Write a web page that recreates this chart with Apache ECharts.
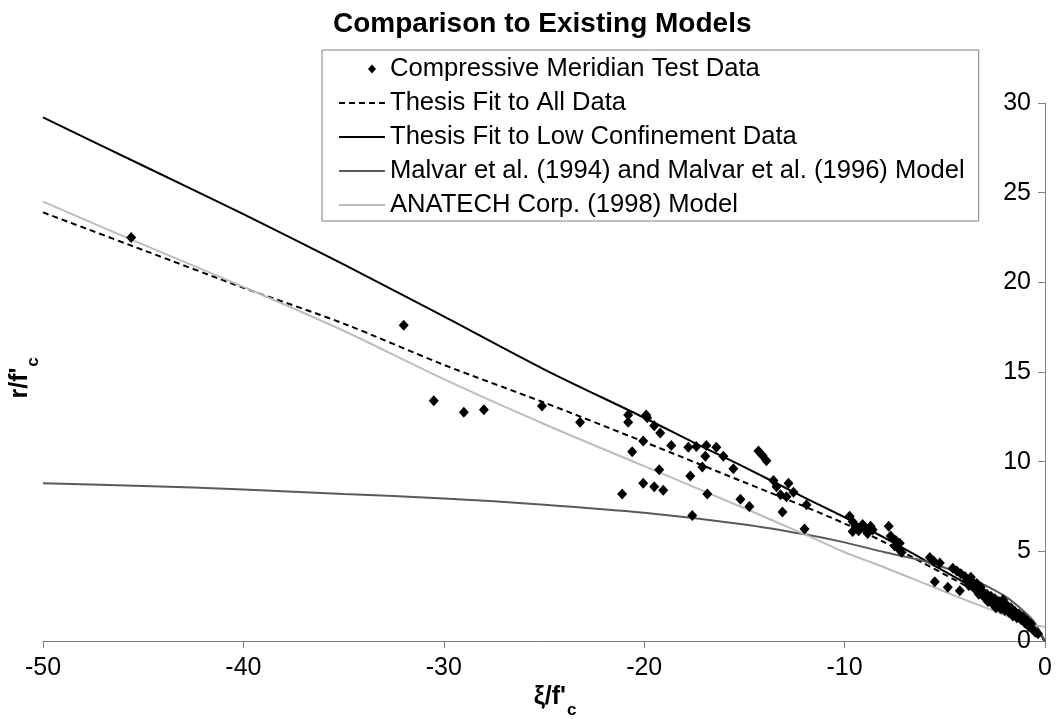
<!DOCTYPE html>
<html>
<head>
<meta charset="utf-8">
<script src="https://cdn.jsdelivr.net/npm/echarts@6/dist/echarts.min.js"></script>
<style>
html,body{margin:0;padding:0;background:#fff;}
#chart{width:1058px;height:719px;}
</style>
</head>
<body>
<div id="chart"></div>
<script>
// ---- data ----
const testData = [
  [-45.6,22.5],[-32.0,17.6],[-30.5,13.4],[-29.0,12.75],[-28.0,12.9],[-25.1,13.1],
  [-23.2,12.2],[-20.8,12.6],[-20.8,12.2],[-20.6,10.55],[-21.1,8.2],[-19.9,12.6],
  [-19.85,12.45],[-19.5,12.0],[-19.2,11.6],[-20.05,11.15],[-18.65,10.9],[-19.25,9.55],
  [-17.8,10.8],[-17.4,10.85],[-16.9,10.9],[-16.4,10.8],[-16.95,10.3],[-17.1,9.7],
  [-16.05,10.3],[-15.55,9.6],[-17.7,9.2],[-20.05,8.8],[-19.5,8.6],[-19.05,8.4],
  [-16.85,8.2],[-17.6,7.0],[-15.2,7.9],[-14.75,7.5],[-14.3,10.6],[-14.1,10.35],
  [-13.9,10.05],[-13.55,8.95],[-13.4,8.6],[-13.2,8.15],[-12.8,8.8],[-12.55,8.3],
  [-12.9,8.05],[-11.9,7.6],[-13.1,7.2],[-12.0,6.25],
  [-9.75,6.95],[-9.6,6.65],[-9.45,6.4],[-9.3,6.15],[-9.6,6.1],[-9.1,6.5],[-8.95,6.3],
  [-8.85,6.0],[-8.7,6.4],[-8.6,6.2],[-7.8,6.4],[-7.7,5.85],[-7.45,5.6],[-7.25,5.45],
  [-7.3,5.15],[-7.15,4.95],[-7.5,5.3],
  [-5.75,4.65],[-5.55,4.45],[-5.25,4.35],[-5.5,3.3],[-4.85,3.0],[-4.6,4.05],[-4.4,3.9],
  [-4.25,2.8],[-4.2,3.75],[-4.0,3.6],[-3.9,3.35],[-3.8,3.1],[-3.7,3.55],[-3.6,3.25],
  [-3.5,2.9],[-3.4,3.2],[-3.3,2.6],[-3.2,3.0],[-3.1,2.75],[-3.0,2.4],[-2.9,2.6],
  [-2.85,2.2],[-2.7,2.5],[-2.6,2.05],[-2.5,2.35],[-2.45,1.85],[-2.3,2.2],[-2.2,1.8],
  [-2.1,2.3],[-2.0,1.7],[-1.9,2.0],[-1.8,1.6],[-1.7,1.85],[-1.6,1.4],[-1.5,1.65],
  [-1.4,1.3],[-1.3,1.5],[-1.2,1.2],[-1.1,1.35],[-1.0,1.0],[-0.9,1.15],[-0.8,0.8],
  [-0.7,0.95],[-0.6,0.65],[-0.5,0.5],[-0.35,0.4]
];
const fitAll = [
  [-50,23.9],[-45,21.8],[-40,19.7],[-35,17.7],[-30,15.4],[-25,13.3],[-20,11.1],
  [-15,8.85],[-12,7.5],[-10,6.55],[-8,5.5],[-6,4.3],[-4,3.1],[-2,1.75],[-1,1.0],[0,0]
];
const fitLow = [
  [-50,29.2],[-45,26.5],[-40,23.8],[-35,21.0],[-30,18.1],[-25,15.15],[-20,12.45],
  [-17.5,11.05],[-15,9.7],[-12,8.0],[-10,6.9],[-8,5.75],[-6,4.5],[-4,3.25],[-2,1.9],
  [-1,1.1],[-0.3,0.45],[0,0]
];
const malvar = [
  [-50,8.8],[-45,8.65],[-40,8.45],[-35,8.2],[-30,7.95],[-25,7.6],[-20,7.15],[-15,6.5],
  [-12,5.95],[-10,5.5],[-8,4.95],[-6,4.45],[-4,3.65],[-2,2.5],[-1,1.6],[-0.5,1.0],[0,0]
];
const anatech = [
  [-50,24.5],[-45,22.1],[-40,19.75],[-35,17.3],[-30,14.6],[-25,12.1],[-20,9.75],
  [-15,7.4],[-12,5.95],[-10,4.95],[-8,4.1],[-6,3.2],[-4,2.3],[-2,1.45],[-1,1.0],[0,0.8]
];
const seriesNames = [
  'Compressive Meridian Test Data',
  'Thesis Fit to All Data',
  'Thesis Fit to Low Confinement Data',
  'Malvar et al. (1994) and Malvar et al. (1996) Model',
  'ANATECH Corp. (1998) Model'
];
const xTicks = {min:-50, max:0, interval:10};
const yTicks = {min:0, max:30, interval:5};

const FONT = '"Liberation Sans", Arial, sans-serif';
const chart = echarts.init(document.getElementById('chart'));
const lineBase = {type:'line', showSymbol:false, symbol:'none', smooth:0.3, z:2};
const hideSym = {opacity:0, borderWidth:0};

chart.setOption({
  backgroundColor:'#fff',
  animation:false,
  textStyle:{fontFamily:FONT, color:'#000'},
  title:{
    text:'Comparison to Existing Models',
    left:328, top:5,
    textStyle:{fontFamily:FONT, fontSize:28, fontWeight:'bold', color:'#000'}
  },
  legend:{
    orient:'vertical',
    left:322, top:50,
    padding:[6,14,3,16],
    itemWidth:46, itemHeight:14, itemGap:8,
    borderColor:'#808080', borderWidth:1,
    textStyle:{fontFamily:FONT, fontSize:25.6, color:'#000'},
    data:[
      {name:seriesNames[0], icon:'path://M0,0M46,14M33,2.5L37,7L33,11.5L29,7Z'},
      {name:seriesNames[1], itemStyle:hideSym},
      {name:seriesNames[2], itemStyle:hideSym},
      {name:seriesNames[3], itemStyle:hideSym},
      {name:seriesNames[4], itemStyle:hideSym}
    ]
  },
  grid:{left:43, right:13, top:103, bottom:78, containLabel:false},
  xAxis:{
    type:'value', min:xTicks.min, max:xTicks.max, interval:xTicks.interval,
    axisLine:{onZero:false, lineStyle:{color:'#808080', width:1}},
    axisTick:{show:true, length:7, lineStyle:{color:'#808080'}},
    axisLabel:{fontFamily:FONT, fontSize:25, color:'#000', margin:15},
    splitLine:{show:false}
  },
  yAxis:{
    type:'value', position:'right', min:yTicks.min, max:yTicks.max, interval:yTicks.interval,
    axisLine:{show:true, onZero:false, lineStyle:{color:'#808080', width:1}},
    axisTick:{show:true, inside:true, length:7, lineStyle:{color:'#808080'}},
    axisLabel:{inside:true, fontFamily:FONT, fontSize:25, color:'#000', margin:14},
    splitLine:{show:false}
  },
  graphic:[
    {type:'text', x:566, y:697, style:{text:"ξ/f'", font:'bold 25px '+FONT, fill:'#000', textAlign:'right', textVerticalAlign:'middle'}},
    {type:'text', x:567, y:710, style:{text:'c', font:'bold 17px '+FONT, fill:'#000', textAlign:'left', textVerticalAlign:'middle'}},
    {type:'text', x:20, y:383, rotation:Math.PI/2, style:{text:"r/f'", font:'bold 25px '+FONT, fill:'#000', textAlign:'center', textVerticalAlign:'middle'}},
    {type:'text', x:33, y:362, rotation:Math.PI/2, style:{text:'c', font:'bold 17px '+FONT, fill:'#000', textAlign:'center', textVerticalAlign:'middle'}}
  ],
  series:[
    {name:seriesNames[0], type:'scatter', data:testData, symbol:'diamond', symbolSize:[10,11],
     itemStyle:{color:'#000', opacity:1}, z:5},
    Object.assign({}, lineBase, {name:seriesNames[1], data:fitAll,
      lineStyle:{color:'#000', width:2, type:[6,4]}, itemStyle:{color:'#000'}}),
    Object.assign({}, lineBase, {name:seriesNames[2], data:fitLow,
      lineStyle:{color:'#000', width:2}, itemStyle:{color:'#000'}}),
    Object.assign({}, lineBase, {name:seriesNames[3], data:malvar,
      lineStyle:{color:'#5a5a5a', width:2}, itemStyle:{color:'#5a5a5a'}}),
    Object.assign({}, lineBase, {name:seriesNames[4], data:anatech,
      lineStyle:{color:'#bdbdbd', width:2}, itemStyle:{color:'#bdbdbd'}})
  ]
});
</script>
</body>
</html>
